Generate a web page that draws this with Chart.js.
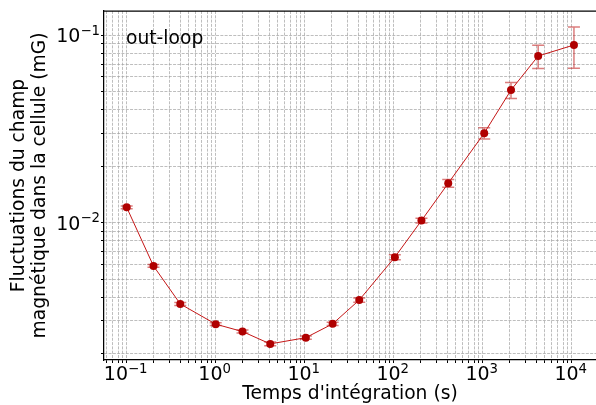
<!DOCTYPE html>
<html>
<head>
<meta charset="utf-8">
<script src="https://cdn.jsdelivr.net/npm/chart.js@4.4.1/dist/chart.umd.min.js"></script>
<style>
  html, body { margin: 0; padding: 0; background: #fff; }
</style>
</head>
<body>
<canvas id="c" width="596" height="405"></canvas>
<script>
// temps d'intégration (s) et fluctuations (mG)
const tempsIntegration = [0.1, 0.2, 0.4, 1.0, 2.0, 4.1, 10.3, 20.6, 41, 103, 205, 410, 1040, 2080, 4200, 10600];
const fluctuations = [0.01207, 0.00588, 0.00369, 0.00288, 0.00263, 0.00226, 0.00244, 0.00289, 0.00387, 0.00655, 0.01026, 0.01622, 0.0300, 0.0509, 0.0773, 0.0885];
const erreurs = [0.0002, 0.0001, 0.00007, 0.00005, 0.00005, 0.00005, 0.00005, 0.00006, 0.0001, 0.0002, 0.0003, 0.00075, 0.0021, 0.005, 0.011, 0.022];

// graduations principales : valeur, base, exposant
const xMajorTicks = [0.1, 1, 10, 100, 1000, 10000];
const xTickLabels = [['10', '−1'], ['10', '0'], ['10', '1'], ['10', '2'], ['10', '3'], ['10', '4']];
const yMajorTicks = [0.01, 0.1];
const yTickLabels = [['10', '−2'], ['10', '−1']];

const X_MIN = 0.0556, X_MAX = 18750;
const Y_MIN = 0.001855, Y_MAX = 0.1343;
const FONT = "'DejaVu Sans', sans-serif";

function logTicks(min, max) {
  const out = [];
  for (let e = Math.floor(Math.log10(min)); e <= Math.ceil(Math.log10(max)); e++) {
    for (let m = 1; m <= 9; m++) {
      const v = m * Math.pow(10, e);
      if (v >= min && v <= max) out.push({ value: v });
    }
  }
  return out;
}

const errorBars = {
  id: 'errorBars',
  beforeDatasetsDraw(chart) {
    const { ctx, scales: { x, y } } = chart;
    ctx.save();
    ctx.strokeStyle = 'rgba(190,20,20,0.55)';
    ctx.lineWidth = 1.5;
    tempsIntegration.forEach((t, i) => {
      const px = x.getPixelForValue(t);
      const top = y.getPixelForValue(fluctuations[i] + erreurs[i]);
      const bot = y.getPixelForValue(fluctuations[i] - erreurs[i]);
      ctx.beginPath();
      ctx.moveTo(px, top); ctx.lineTo(px, bot);
      ctx.moveTo(px - 6, top); ctx.lineTo(px + 6, top);
      ctx.moveTo(px - 6, bot); ctx.lineTo(px + 6, bot);
      ctx.stroke();
    });
    ctx.restore();
  }
};

const powerLabels = {
  id: 'powerLabels',
  afterDraw(chart) {
    const { ctx, chartArea, scales: { x, y } } = chart;
    ctx.save();
    ctx.fillStyle = '#000';
    ctx.textBaseline = 'alphabetic';
    ctx.textAlign = 'left';

    const draw = (lab, left, base) => {
      ctx.font = '19px ' + FONT;
      const wb = ctx.measureText(lab[0]).width;
      ctx.fillText(lab[0], left, base);
      ctx.font = '13.3px ' + FONT;
      ctx.fillText(lab[1], left + wb, base - 7.5);
    };
    const width = (lab) => {
      ctx.font = '19px ' + FONT;
      const wb = ctx.measureText(lab[0]).width;
      ctx.font = '13.3px ' + FONT;
      return wb + ctx.measureText(lab[1]).width;
    };

    xMajorTicks.forEach((v, i) => {
      const px = x.getPixelForValue(v);
      draw(xTickLabels[i], px - width(xTickLabels[i]) / 2 - 1, chartArea.bottom + 20);
    });
    yMajorTicks.forEach((v, i) => {
      const py = y.getPixelForValue(v);
      draw(yTickLabels[i], chartArea.left - 4 - width(yTickLabels[i]), py + 7);
    });

    // cadre du haut
    ctx.strokeStyle = '#000';
    ctx.lineWidth = 1.25;
    ctx.beginPath();
    ctx.moveTo(chartArea.left, chartArea.top);
    ctx.lineTo(chartArea.right, chartArea.top);
    ctx.stroke();

    ctx.font = '18.7px ' + FONT;
    ctx.fillText('out-loop', chartArea.left + 22, chartArea.top + 33);
    ctx.restore();
  }
};

const gridOpts = {
  color: 'rgba(165,165,165,0.9)',
  lineWidth: 0.8,
  drawTicks: true,
  tickLength: 3,
  tickColor: '#000',
  tickWidth: 1,
  tickBorderDash: []
};

new Chart(document.getElementById('c'), {
  type: 'line',
  data: {
    datasets: [{
      data: tempsIntegration.map((t, i) => ({ x: t, y: fluctuations[i] })),
      borderColor: '#c41616',
      borderWidth: 1,
      pointRadius: 4,
      pointBackgroundColor: '#b00000',
      pointBorderColor: '#b00000',
      pointBorderWidth: 0,
      tension: 0
    }]
  },
  options: {
    responsive: false,
    animation: false,
    devicePixelRatio: 1,
    layout: { autoPadding: false, padding: { top: 11, right: 0, left: 0, bottom: 0 } },
    plugins: { legend: { display: false }, tooltip: { enabled: false } },
    scales: {
      x: {
        type: 'logarithmic',
        min: X_MIN,
        max: X_MAX,
        afterBuildTicks: (s) => { s.ticks = logTicks(X_MIN, X_MAX); },
        afterFit: (s) => { s.height = 45; },
        ticks: { display: false },
        grid: gridOpts,
        border: { color: '#000', width: 1.25, dash: [3, 1.3] },
        title: {
          display: true,
          text: "Temps d'intégration (s)",
          color: '#000',
          font: { family: FONT, size: 18.7, lineHeight: 1.15 },
          padding: { top: 0, bottom: 0 }
        }
      },
      y: {
        type: 'logarithmic',
        min: Y_MIN,
        max: Y_MAX,
        afterBuildTicks: (s) => { s.ticks = logTicks(Y_MIN, Y_MAX); },
        afterFit: (s) => { s.width = 104; },
        ticks: { display: false },
        grid: gridOpts,
        border: { color: '#000', width: 1.25, dash: [3, 1.3] },
        title: {
          display: true,
          text: ['Fluctuations du champ', 'magnétique dans la cellule (mG)'],
          color: '#000',
          font: { family: FONT, size: 18.7, lineHeight: 1.12 },
          padding: { top: 9, bottom: 0 }
        }
      }
    }
  },
  plugins: [errorBars, powerLabels]
});
</script>
</body>
</html>
